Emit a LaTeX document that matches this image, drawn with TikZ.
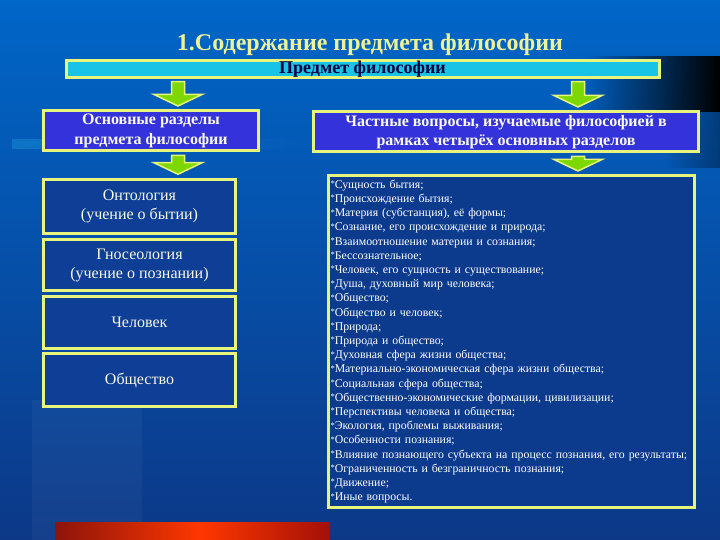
\documentclass[tikz,border=0pt]{standalone}
\usepackage{fontspec}
\setmainfont{Liberation Serif}
\usetikzlibrary{calc,fadings}

\definecolor{bgtop}{RGB}{0,102,200}
\definecolor{bgbot}{RGB}{12,56,135}
\definecolor{frame}{RGB}{232,245,125}
\definecolor{barfill}{RGB}{25,195,230}
\definecolor{headfill}{RGB}{52,50,218}
\definecolor{boxfill}{RGB}{14,62,150}
\definecolor{listfill}{RGB}{12,58,140}
\definecolor{arrgreen}{RGB}{125,215,0}
\definecolor{txtlight}{RGB}{250,250,228}
\definecolor{titlecol}{RGB}{238,242,150}
\definecolor{redbright}{RGB}{255,55,0}
\definecolor{reddark}{RGB}{140,20,10}

\newcommand\qb{\raisebox{1.5pt}{\fontsize{8.5}{8.5}\selectfont *}}

\begin{document}
\begin{tikzpicture}[x=1pt,y=-1pt,
    title/.style={text=titlecol,font=\bfseries\fontsize{24}{26}\selectfont},
    topbar/.style={draw=frame,line width=3pt,fill=barfill,minimum width=593pt,minimum height=16pt,
      inner sep=0pt,text=blue!25!black,font=\bfseries\fontsize{18}{18}\selectfont},
    headbox/.style={draw=frame,line width=3pt,fill=headfill,inner sep=0pt,align=center,
      text=txtlight,font=\bfseries\fontsize{16}{19.5}\selectfont},
    partbox/.style={draw=frame,line width=3.5pt,fill=boxfill,minimum width=192pt,inner sep=0pt,
      align=center,text=txtlight,font=\fontsize{16}{19}\selectfont},
    listbox/.style={draw=frame,line width=3pt,fill=listfill,inner xsep=2.5pt,inner ysep=0pt,
      text width=361pt,minimum height=331pt,align=left,text=white,font=\fontsize{11.8}{14.2}\selectfont},
    blockarr/.style={draw=frame,line width=1.5pt,fill=arrgreen,line join=miter}]

  % background
  \shade[top color=bgtop,bottom color=bgbot] (0,0) rectangle (720,540);
  \fill[black,path fading=west] (585,56) rectangle (720,112);
  \fill[black,opacity=0.35,path fading=west] (665,112) rectangle (720,168);
  \fill[cyan!60!blue,opacity=0.8,path fading=east] (12,139) rectangle (320,149);
  \fill[white,opacity=0.04] (32,400) rectangle (142,540);
  \shade[left color=reddark,right color=redbright] (55,522) rectangle (200,540);
  \shade[left color=redbright,right color=reddark!80!red] (200,522) rectangle (330,540);

  \node[title] (ttl) at (370,45) {1.Содержание предмета философии};
  \node[topbar] (bar) at (362.5,69) {Предмет философии};

  \node[headbox,minimum width=215pt,minimum height=40pt] (secL) at (151,131)
    {Основные разделы\\предмета философии};
  \node[headbox,minimum width=385pt,minimum height=40pt] (quest) at (506,132)
    {Частные вопросы, изучаемые философией в\\рамках четырёх основных разделов};

  \node[partbox,minimum height=54pt] (onto) at (139.5,206.5) {Онтология\\(учение о бытии)};
  \node[partbox,minimum height=51pt] (gnos) at (139.5,265) {Гносеология\\(учение о познании)};
  \node[partbox,minimum height=52pt] (chel) at (139.5,322.5) {Человек};
  \node[partbox,minimum height=53pt] (obsh) at (139.5,380) {Общество};

  \node[listbox] (qlist) at (511,341.5) {\qb Сущность бытия;\\
    \qb Происхождение бытия;\\
    \qb Материя (субстанция), её формы;\\
    \qb Сознание, его происхождение и природа;\\
    \qb Взаимоотношение материи и сознания;\\
    \qb Бессознательное;\\
    \qb Человек, его сущность и существование;\\
    \qb Душа, духовный мир человека;\\
    \qb Общество;\\
    \qb Общество и человек;\\
    \qb Природа;\\
    \qb Природа и общество;\\
    \qb Духовная сфера жизни общества;\\
    \qb Материально-экономическая сфера жизни общества;\\
    \qb Социальная сфера общества;\\
    \qb Общественно-экономические формации, цивилизации;\\
    \qb Перспективы человека и общества;\\
    \qb Экология, проблемы выживания;\\
    \qb Особенности познания;\\
    \qb Влияние познающего субъекта на процесс познания, его результаты;\\
    \qb Ограниченность и безграничность познания;\\
    \qb Движение;\\
    \qb Иные вопросы.};

  % block arrows
  \coordinate (colL) at (178,0);
  \coordinate (colR) at (578,0);
  \foreach \s/\t/\c in {bar/secL/colL,bar/quest/colR,secL/onto/colL,quest/qlist/colR}
    \filldraw[blockarr] let \p1=(\s.south -| \c), \p2=(\t.north -| \c) in
      (\x1-6.5pt,\y1-3pt) -- (\x1+6.5pt,\y1-3pt) -- (\x1+6.5pt,\y2+15pt) -- (\x1+24pt,\y2+15pt)
      -- (\x1,\y2+3.5pt) -- (\x1-24pt,\y2+15pt) -- (\x1-6.5pt,\y2+15pt) -- cycle;
\end{tikzpicture}
\end{document}
